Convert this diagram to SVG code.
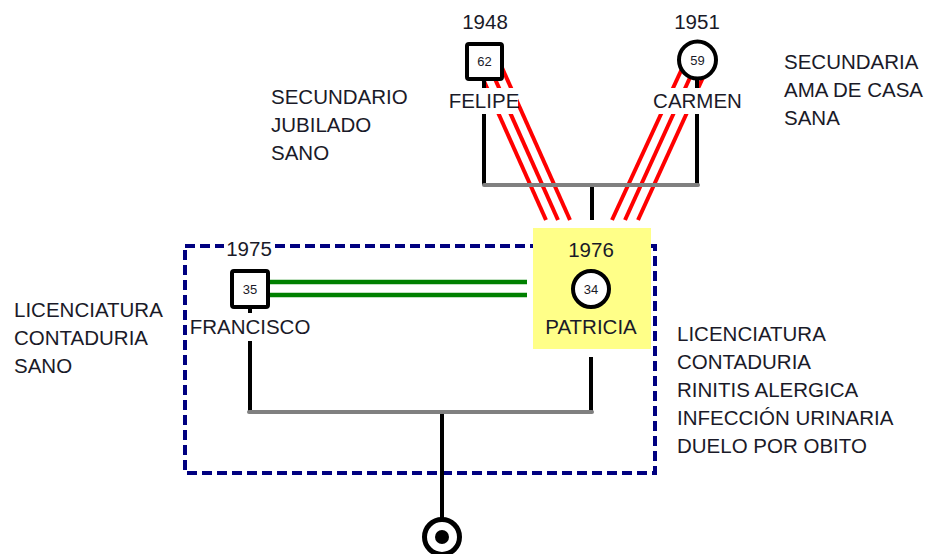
<svg xmlns="http://www.w3.org/2000/svg" width="941" height="554" viewBox="0 0 941 554">
<style>
.t{font-family:"Liberation Sans",Arial,sans-serif;font-size:20.5px;fill:#1a1a28}
.c{text-anchor:middle}
.n{font-family:"Liberation Sans",Arial,sans-serif;font-size:13px;fill:#1a1a28;text-anchor:middle}
.blk{stroke:#000;stroke-width:4;fill:none}
.gry{stroke:#808080;stroke-width:4;fill:none;stroke-linecap:round}
.red{stroke:#ff0000;stroke-width:4;fill:none}
.grn{stroke:#008000;stroke-width:4.5;fill:none}
.sym{fill:#fff;stroke:#000;stroke-width:4}
.bg{fill:#fff}
</style>
<rect width="941" height="554" fill="#fff"/>
<g id="household">
<rect x="185" y="246" width="470" height="227" fill="none" stroke="#000080" stroke-width="4" stroke-dasharray="10 5"/>
<rect x="533" y="228" width="118" height="121" fill="#ffff88"/>
</g>
<g id="connectors">
<line class="red" x1="475" y1="61" x2="546" y2="220"/>
<line class="red" x1="487" y1="61" x2="558" y2="220"/>
<line class="red" x1="499" y1="61" x2="570" y2="220"/>
<line class="red" x1="686" y1="60" x2="612" y2="220"/>
<line class="red" x1="698" y1="60" x2="625" y2="220"/>
<line class="red" x1="711" y1="60" x2="638" y2="220"/>
<line class="blk" x1="484" y1="61" x2="484" y2="185"/>
<line class="blk" x1="697" y1="60" x2="697" y2="185"/>
<line class="blk" x1="592" y1="185" x2="592" y2="220"/>
<line class="gry" x1="484" y1="185" x2="698" y2="185"/>
<line class="grn" x1="268" y1="282" x2="527" y2="282"/>
<line class="grn" x1="268" y1="295" x2="527" y2="295"/>
<line class="blk" x1="250" y1="289" x2="250" y2="412"/>
<line class="blk" x1="591" y1="357" x2="591" y2="412"/>
<line class="blk" x1="442" y1="412" x2="442" y2="520"/>
<line class="gry" x1="249" y1="412" x2="592" y2="412"/>
</g>
<g id="felipe">
<text class="t c" x="485" y="29">1948</text>
<rect class="sym" x="467" y="44" width="35" height="35" rx="2"/>
<text class="n" x="484.5" y="66">62</text>
<rect class="bg" x="450" y="88" width="68" height="26"/>
<text class="t c" x="484" y="108">FELIPE</text>
</g>
<g id="carmen">
<text class="t c" x="697" y="29">1951</text>
<circle class="sym" cx="697.5" cy="60" r="18.5"/>
<text class="n" x="697.5" y="65">59</text>
<rect class="bg" x="651" y="88" width="94" height="26"/>
<text class="t c" x="697.5" y="108">CARMEN</text>
</g>
<g id="francisco">
<rect class="bg" x="224" y="238" width="50" height="22"/>
<text class="t c" x="249" y="256">1975</text>
<rect class="sym" x="232" y="271" width="36" height="36" rx="2"/>
<text class="n" x="250" y="294">35</text>
<rect class="bg" x="187" y="313" width="126" height="28"/>
<text class="t c" x="250" y="334">FRANCISCO</text>
</g>
<g id="patricia">
<text class="t c" x="591" y="257">1976</text>
<circle class="sym" cx="591" cy="289" r="18"/>
<text class="n" x="591" y="294">34</text>
<text class="t c" x="591" y="334">PATRICIA</text>
</g>
<g id="child">
<circle cx="442" cy="537" r="17.5" fill="#fff" stroke="#000" stroke-width="5"/>
<circle cx="442" cy="537" r="7" fill="#000"/>
</g>
<g id="notes">
<text class="t" x="271" y="104">SECUNDARIO</text>
<text class="t" x="271" y="132">JUBILADO</text>
<text class="t" x="271" y="160">SANO</text>
<text class="t" x="784" y="69">SECUNDARIA</text>
<text class="t" x="784" y="97">AMA DE CASA</text>
<text class="t" x="784" y="125">SANA</text>
<text class="t" x="14" y="317">LICENCIATURA</text>
<text class="t" x="14" y="345">CONTADURIA</text>
<text class="t" x="14" y="373">SANO</text>
<text class="t" x="677" y="341">LICENCIATURA</text>
<text class="t" x="677" y="369">CONTADURIA</text>
<text class="t" x="677" y="397">RINITIS ALERGICA</text>
<text class="t" x="677" y="425">INFECCIÓN URINARIA</text>
<text class="t" x="677" y="453">DUELO POR OBITO</text>
</g>
</svg>
